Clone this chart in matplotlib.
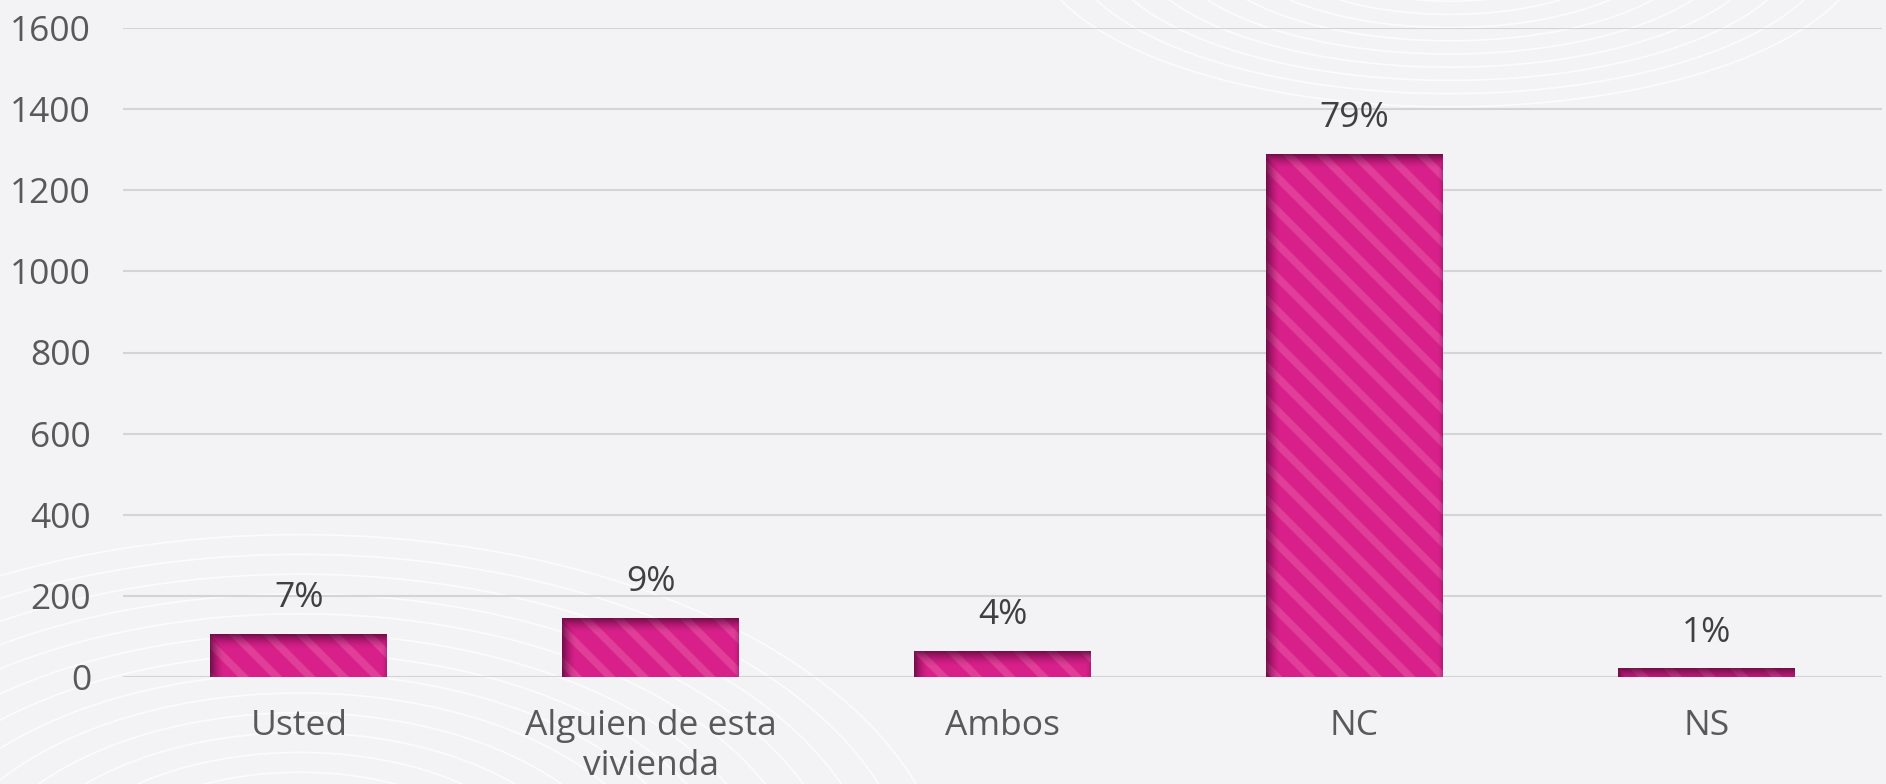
import numpy as np
import matplotlib
matplotlib.use("Agg")
import matplotlib.pyplot as plt
from matplotlib.colors import to_rgb

categories = ["Usted", "Alguien de esta\nvivienda", "Ambos", "NC", "NS"]
values = [106, 145, 64, 1289, 21]
pct_labels = ["7%", "9%", "4%", "79%", "1%"]
yticks = [0, 200, 400, 600, 800, 1000, 1200, 1400, 1600]

plt.rcParams['font.family'] = ['Open Sans', 'DejaVu Sans']
plt.rcParams['hatch.linewidth'] = 5.5

W, H, DPI = 18.86, 7.84, 100
fig = plt.figure(figsize=(W, H), dpi=DPI, facecolor='#f3f3f5')

# faint decorative background arcs
bg = fig.add_axes([0, 0, 1, 1], zorder=-10)
bg.set_xlim(0, 1886); bg.set_ylim(784, 0); bg.axis('off')
t = np.linspace(0, 2 * np.pi, 400)
for r in range(120, 420, 22):
    bg.plot(300 + r * 1.6 * np.cos(t), 900 + r * 0.9 * np.sin(t), color='white', lw=1.2, alpha=0.7)
for r in range(80, 300, 22):
    bg.plot(1450 + r * 1.5 * np.cos(t), -60 + r * 0.6 * np.sin(t), color='white', lw=1.2, alpha=0.7)

ax = fig.add_axes([123 / 1886, 1 - 677 / 784, (1882 - 123) / 1886, (677 - 28) / 784])
ax.set_facecolor('none')

x = np.arange(len(categories))
bw = 0.503
base = '#d8208a'
stripe = '#e03e98'
ax.bar(x, values, width=bw, color=base, edgecolor='none', zorder=2)
ax.bar(x, values, width=bw, facecolor='none', edgecolor=stripe, hatch='\\', linewidth=0, zorder=3)

# inner shadow on top/left edges of each bar
ax.set_xlim(-0.5, 4.5)
ax.set_ylim(0, 1600)
ppx = (1882 - 123) / 5.0      # pixels per x unit
ppy = (677 - 28) / 1600.0     # pixels per y unit
dark = np.array(to_rgb('#4a0530'))
thick = 14.0
for xi, v in zip(x, values):
    wpx = int(bw * ppx); hpx = max(int(v * ppy), 2)
    yy, xx = np.mgrid[0:hpx, 0:wpx]
    top = np.clip(1 - yy / thick, 0, 1)
    left = np.clip(1 - xx / thick, 0, 1)
    right = np.clip(1 - (wpx - 1 - xx) / 5.0, 0, 1) * 0.5
    a = np.maximum(np.maximum(top, left), right) ** 1.6 * 0.7
    img = np.zeros((hpx, wpx, 4))
    img[..., :3] = dark
    img[..., 3] = a
    ax.imshow(img, extent=(xi - bw / 2, xi + bw / 2, 0, v), aspect='auto',
              origin='upper', zorder=4, interpolation='bilinear')

ax.set_xlim(-0.5, 4.5)
ax.set_ylim(0, 1600)

for xi, v, lab in zip(x, values, pct_labels):
    ax.annotate(lab, (xi, v), xytext=(0, 13.5), textcoords='offset points',
                ha='center', va='bottom', fontsize=25.5, color='#404040', zorder=5)

ax.set_yticks(yticks)
ax.set_yticklabels([str(v) for v in yticks])
ax.set_xticks(x)
ax.set_xticklabels(categories, linespacing=1.25)
ax.tick_params(axis='both', length=0, labelsize=25.5, labelcolor='#595959')
ax.tick_params(axis='y', pad=23)
ax.tick_params(axis='x', pad=23)
ax.set_axisbelow(True)
ax.yaxis.grid(True, color='#d4d4d4', lw=1.5)
for s in ax.spines.values():
    s.set_visible(False)

fig.savefig('out.png', dpi=DPI, facecolor=fig.get_facecolor())
